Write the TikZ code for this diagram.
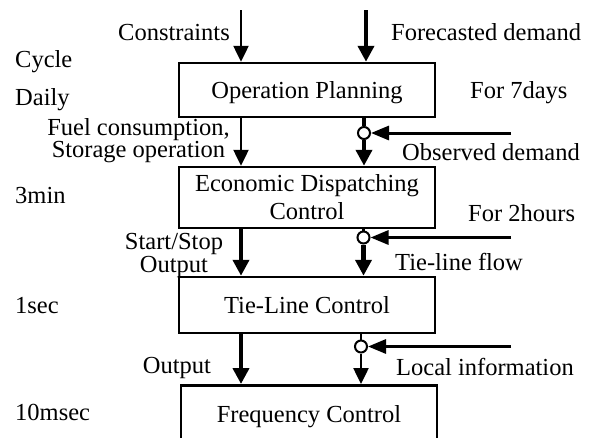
\documentclass[tikz,border=0pt]{standalone}
\usepackage{fontspec}
\setmainfont{Liberation Serif}
\usetikzlibrary{arrows.meta}
\begin{document}
\begin{tikzpicture}[x=1pt,y=-1pt,
  font=\fontsize{24.5}{28}\selectfont,
  blockbox/.style={draw,line width=2.5pt,minimum width=256pt,inner sep=0pt,align=center},
  lbl/.style={inner sep=0pt,anchor=base west},
  lblc/.style={inner sep=0pt,anchor=base,align=center},
  joint/.style={circle,draw,line width=2pt,fill=white,minimum size=12pt,inner sep=0pt},
  thinarrow/.style={line width=2.5pt,-{Triangle[width=15pt,length=16pt]}},
  thickarrow/.style={line width=4.5pt,-{Triangle[width=16pt,length=16pt]}},
  feedarrow/.style={line width=3pt,-{Triangle[width=14pt,length=18pt]}},
]
\useasboundingbox (0,0) rectangle (595,437);
\clip (0,0) rectangle (595,437);

% blocks
\node[blockbox,minimum height=54pt,text height=17pt,text depth=0pt] (op) at (307,90) {Operation Planning};
\node[blockbox,minimum height=61pt] (edc) at (307,197.5) {Economic Dispatching\\Control};
\node[blockbox,minimum height=56pt,text height=17pt,text depth=0pt] (tlc) at (307,305) {Tie-Line Control};
\node[blockbox,minimum height=90pt,anchor=north] (fc) at (309,384) {};
\node[inner sep=0pt,anchor=base] (fct) at (309,422) {Frequency Control};

% column coordinates
\coordinate (cin) at (241,10);
\coordinate (fin) at (366,10);
\coordinate (L) at (241,0);
\node[joint] (c1) at (364,133) {};
\node[joint] (c2) at (363.5,237.5) {};
\node[joint] (c3) at (361,346.5) {};
\coordinate (od) at (511,133);
\coordinate (tf) at (511,237.5);
\coordinate (li) at (511,346.5);

% top inputs
\draw[thinarrow] (cin) -- (op.north -| cin);
\draw[thickarrow] (fin) -- (op.north -| fin);

% OP -> EDC
\draw[thinarrow] (op.south -| L) -- (edc.north -| L);
\draw[line width=4pt] (op.south -| c1) -- (c1.north);
\draw[thickarrow] (c1.south) -- (edc.north -| c1);
\draw[feedarrow] (od) -- (c1.east);

% EDC -> TLC
\draw[thickarrow] (edc.south -| L) -- (tlc.north -| L);
\draw[line width=3.5pt] (edc.south -| c2) -- (c2.north);
\draw[thickarrow] (c2.south) -- (tlc.north -| c2);
\draw[feedarrow] (tf) -- (c2.east);

% TLC -> FC
\draw[thickarrow] (tlc.south -| L) -- (fc.north -| L);
\draw[line width=2pt] (tlc.south -| c3) -- (c3.north);
\draw[thinarrow] (c3.south) -- (fc.north -| c3);
\draw[feedarrow] (li) -- (c3.east);

% labels
\node[inner sep=0pt,anchor=base east] (tcons) at (230,40) {Constraints};
\node[lbl] (tfore) at (391,40) {Forecasted demand};
\node[lbl] (tcyc) at (15,67) {Cycle};
\node[lbl] (tday) at (15,105) {Daily};
\node[lbl] (t7d) at (470,98) {For 7days};
\node[lblc] (tfuel) at (138.5,157) {Fuel consumption,\\[-6pt]Storage operation};
\node[lbl] (tobs) at (402,160) {Observed demand};
\node[lbl] (t3m) at (15,203) {3min};
\node[lbl] (t2h) at (468,221) {For 2hours};
\node[lblc] (tss) at (174,272) {Start/Stop\\[-5pt]Output};
\node[lbl] (ttie) at (395,270) {Tie-line flow};
\node[lbl] (t1s) at (15,313) {1sec};
\node[lblc] (tout) at (177,373) {Output};
\node[lbl] (tloc) at (396,375) {Local information};
\node[lbl] (t10) at (15,420) {10msec};
\end{tikzpicture}
\end{document}
